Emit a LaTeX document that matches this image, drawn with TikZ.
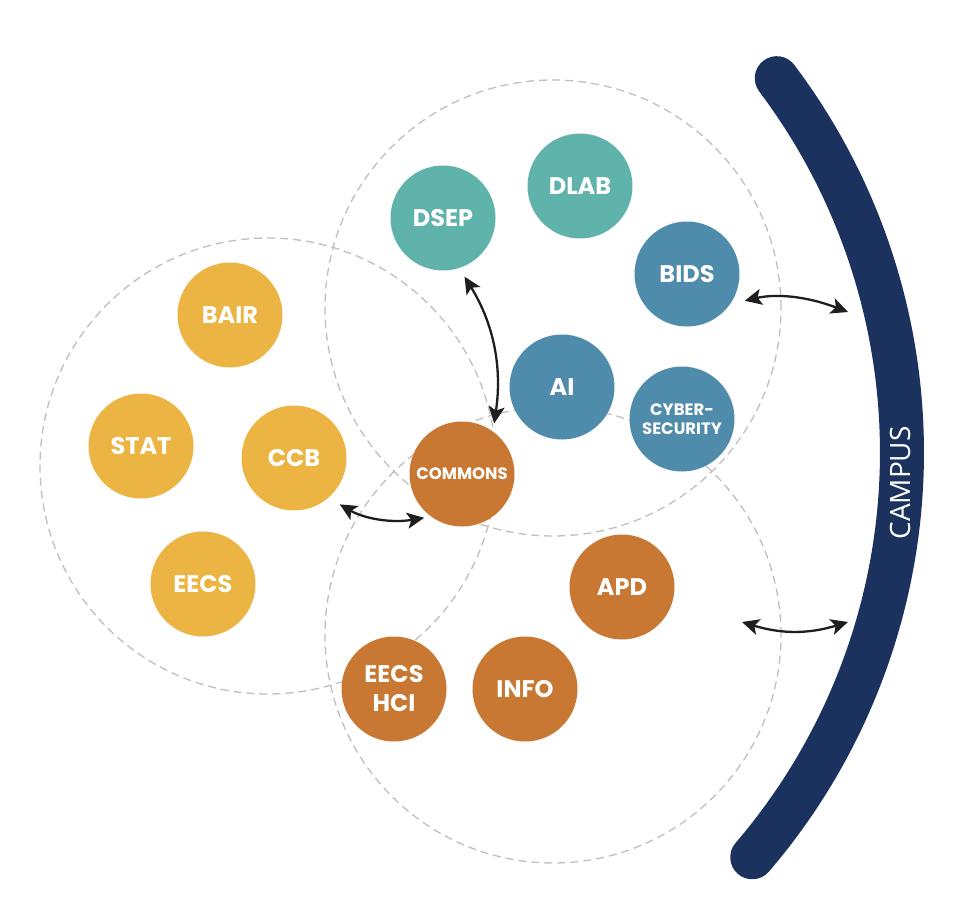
\documentclass[tikz,border=0pt]{standalone}
\usepackage{fontspec}
\setmainfont{Poppins}
\newfontfamily\campusfont{Open Sans}
\usetikzlibrary{arrows.meta}
\begin{document}
\begin{tikzpicture}[
    x=1pt,y=-1pt,
    unit/.style={circle,minimum size=105pt,inner sep=0pt,text=white,align=center,
      font=\bfseries\fontsize{24}{29}\selectfont},
    smallunit/.style={unit,font=\bfseries\fontsize{16.5}{19.5}\selectfont},
    ring/.style={draw=ringgray,line width=1.3pt,dash pattern=on 8pt off 5pt},
    link/.style={draw=linkblack,line width=2.3pt,
      {Stealth[length=17pt,width=16pt,inset=4pt]}-{Stealth[length=17pt,width=16pt,inset=4pt]}}
  ]
    \definecolor{cteal}{HTML}{5FB3AB}
    \definecolor{cblue}{HTML}{4F8BAB}
    \definecolor{cgold}{HTML}{ECB543}
    \definecolor{crust}{HTML}{C87832}
    \definecolor{cnavy}{HTML}{1B325F}
    \definecolor{ringgray}{HTML}{BFBFBF}
    \definecolor{linkblack}{HTML}{1E1E1E}
    \path[use as bounding box] (0,0) rectangle (962,916);
    % the three groups
    \draw[ring] (268,466) circle[radius=228pt];
    \draw[ring] (553,308) circle[radius=228pt];
    \draw[ring] (553,635) circle[radius=228pt];
    % campus band
    \draw[cnavy,line width=44pt,line cap=round]
      plot[domain=-37:40.6,samples=60,smooth] ({280+622*cos(\x)},{452.5+622*sin(\x)});
    \node[rotate=90,text=white,font=\campusfont\fontsize{28}{28}\selectfont] (campus) at (900,483) {CAMPUS};
    \coordinate (campustop) at (848,312);
    \coordinate (campuslow) at (848,622);
    \coordinate (apdgap) at (742,622);
    % units
    \node[unit,fill=cteal] (dsep) at (443,218) {DSEP};
    \node[unit,fill=cteal] (dlab) at (580,186) {DLAB};
    \node[unit,fill=cblue] (bids) at (687,274) {BIDS};
    \node[unit,fill=cblue] (ai) at (562,387) {AI};
    \node[smallunit,fill=cblue] (cyber) at (682,419) {CYBER-\\SECURITY};
    \node[unit,fill=cgold] (bair) at (230,315) {BAIR};
    \node[unit,fill=cgold] (stat) at (141,446) {STAT};
    \node[unit,fill=cgold] (ccb) at (294,458) {CCB};
    \node[unit,fill=cgold] (eecs) at (203,584) {EECS};
    \node[smallunit,fill=crust] (commons) at (462,474) {COMMONS};
    \node[unit,fill=crust] (apd) at (622,587) {APD};
    \node[unit,fill=crust] (info) at (525,689) {INFO};
    \node[unit,fill=crust] (hci) at (394,689) {EECS\\HCI};
    % links
    \draw[link,shorten <=10pt,shorten >=8pt] (dsep.-72) to[bend left=20] (commons.54);
    \draw[link,shorten <=13pt,shorten >=7pt] (ccb.-49) to[bend right=20] (commons.-126);
    \draw[link,shorten <=15pt] (bids.-35) to[bend left=17] (campustop);
    \draw[link] (apdgap) to[bend right=17] (campuslow);
  \end{tikzpicture}
\end{document}
